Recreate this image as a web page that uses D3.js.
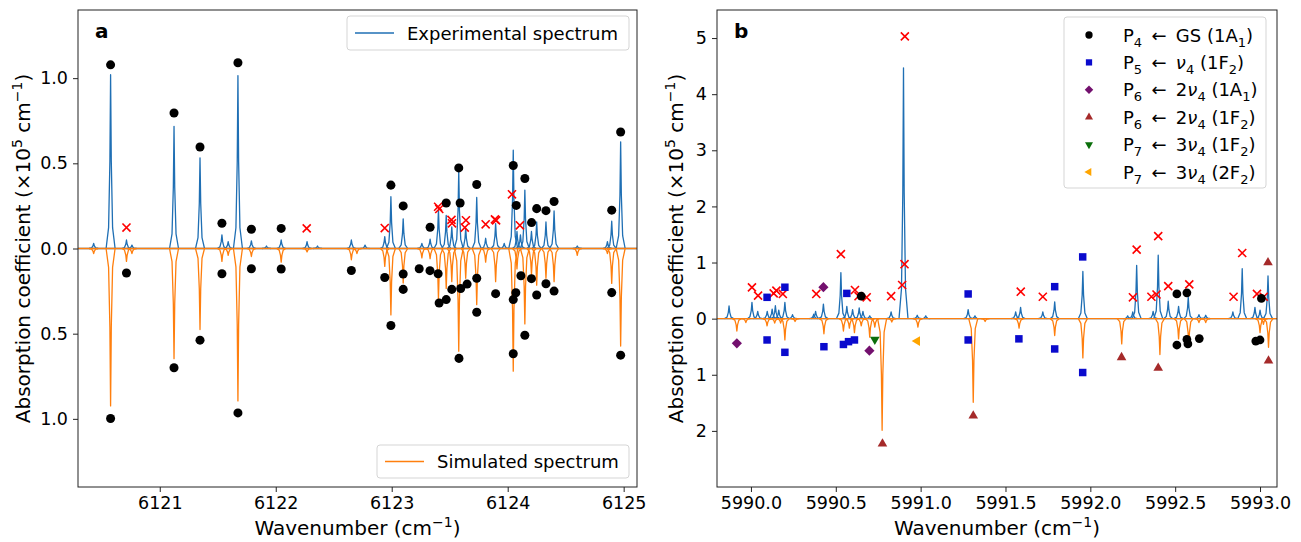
<!DOCTYPE html>
<html>
<head>
<meta charset="utf-8">
<script src="https://cdn.jsdelivr.net/npm/d3@7"></script>
<style>
  body { margin: 0; background: #fff; }
  text { font-family: "DejaVu Sans", sans-serif; fill: #000; }
</style>
</head>
<body>
<svg id="chart" width="1301" height="542"></svg>
<script>
// ---- panel a data ----
const aTicksX = [6121, 6122, 6123, 6124, 6125];
const aTicksY = [-1, -0.5, 0, 0.5, 1];
// [wavenumber, height]
const aExpPeaks = [
  [6120.43, 0.03], [6120.576, 1.02], [6120.713, 0.05], [6120.76, 0.02],
  [6121.123, 0.717], [6121.347, 0.532], [6121.536, 0.08], [6121.59, 0.04],
  [6121.674, 1.015], [6121.79, 0.045], [6121.92, 0.015], [6122.047, 0.05],
  [6122.27, 0.04], [6122.36, 0.015], [6122.652, 0.05], [6122.77, 0.02],
  [6122.94, 0.07], [6122.993, 0.304], [6123.099, 0.174], [6123.26, 0.03],
  [6123.331, 0.055], [6123.403, 0.226], [6123.47, 0.195], [6123.518, 0.127],
  [6123.578, 0.45], [6123.638, 0.12], [6123.733, 0.30], [6123.81, 0.06],
  [6123.896, 0.146], [6123.97, 0.03], [6124.048, 0.577], [6124.08, 0.10],
  [6124.11, 0.08], [6124.148, 0.343], [6124.205, 0.10], [6124.25, 0.156],
  [6124.33, 0.156], [6124.40, 0.22], [6124.6, 0.015], [6124.86, 0.04],
  [6124.897, 0.16], [6124.974, 0.626]
];
// [wavenumber, depth] drawn below zero
const aSimPeaks = [
  [6120.43, 0.03], [6120.576, 0.924], [6120.713, 0.076], [6120.76, 0.03],
  [6121.123, 0.647], [6121.347, 0.476], [6121.536, 0.076], [6121.59, 0.04],
  [6121.674, 0.895], [6121.79, 0.047], [6122.047, 0.08], [6122.27, 0.02],
  [6122.652, 0.066], [6122.70, 0.03], [6122.94, 0.105], [6122.993, 0.39],
  [6123.099, 0.203], [6123.26, 0.055], [6123.331, 0.06], [6123.403, 0.30],
  [6123.47, 0.234], [6123.518, 0.195], [6123.578, 0.603], [6123.638, 0.175],
  [6123.733, 0.33], [6123.81, 0.08], [6123.896, 0.195], [6124.048, 0.72],
  [6124.08, 0.12], [6124.148, 0.443], [6124.205, 0.156], [6124.25, 0.215],
  [6124.33, 0.175], [6124.40, 0.195], [6124.6, 0.04], [6124.86, 0.03],
  [6124.897, 0.205], [6124.974, 0.573]
];
const aDots = [
  [6120.576, 1.078], [6121.123, 0.795], [6121.347, 0.596], [6121.536, 0.148],
  [6121.674, 1.09], [6121.79, 0.113], [6122.047, 0.118], [6122.993, 0.372],
  [6123.099, 0.25], [6123.331, 0.125], [6123.47, 0.267], [6123.578, 0.473],
  [6123.59, 0.267], [6123.733, 0.376], [6124.048, 0.487], [6124.074, 0.253],
  [6124.148, 0.411], [6124.206, 0.152], [6124.25, 0.234], [6124.33, 0.222],
  [6124.40, 0.276], [6124.897, 0.225], [6124.974, 0.684],
  [6120.576, -0.998], [6120.713, -0.144], [6121.123, -0.70], [6121.347, -0.538],
  [6121.536, -0.148], [6121.674, -0.965], [6121.79, -0.119], [6122.047, -0.12],
  [6122.652, -0.129], [6122.94, -0.17], [6122.993, -0.452], [6123.099, -0.15],
  [6123.099, -0.24], [6123.237, -0.119], [6123.33, -0.13], [6123.40, -0.148],
  [6123.409, -0.32], [6123.47, -0.30], [6123.518, -0.24], [6123.595, -0.235],
  [6123.65, -0.209], [6123.58, -0.645], [6123.733, -0.175], [6123.733, -0.374],
  [6123.896, -0.265], [6124.048, -0.618], [6124.048, -0.30], [6124.07, -0.26],
  [6124.114, -0.16], [6124.148, -0.509], [6124.205, -0.177], [6124.25, -0.273],
  [6124.33, -0.207], [6124.40, -0.25], [6124.897, -0.259], [6124.974, -0.626]
];
const aCrosses = [
  [6120.713, 0.123], [6122.267, 0.118], [6122.94, 0.12], [6123.40, 0.245],
  [6123.41, 0.232], [6123.515, 0.168], [6123.52, 0.148], [6123.64, 0.166],
  [6123.63, 0.123], [6123.81, 0.142], [6123.89, 0.171], [6123.90, 0.165],
  [6124.037, 0.318], [6124.105, 0.136]
];

// ---- panel b data ----
const bTicksX = [5990.0, 5990.5, 5991.0, 5991.5, 5992.0, 5992.5, 5993.0];
const bTicksY = [-2, -1, 0, 1, 2, 3, 4, 5];
const bExpPeaks = [
  [5989.871, 0.225], [5990.006, 0.29], [5990.04, 0.13], [5990.096, 0.13],
  [5990.125, 0.17], [5990.144, 0.23], [5990.164, 0.15], [5990.20, 0.29],
  [5990.245, 0.07], [5990.37, 0.08], [5990.381, 0.13], [5990.427, 0.26],
  [5990.53, 0.82], [5990.565, 0.22], [5990.599, 0.16], [5990.638, 0.19],
  [5990.66, 0.13], [5990.70, 0.05], [5990.826, 0.12], [5990.899, 4.47],
  [5990.98, 0.06], [5991.03, 0.05], [5991.28, 0.16], [5991.32, 0.05],
  [5991.56, 0.12], [5991.589, 0.2], [5991.72, 0.12], [5991.79, 0.30],
  [5991.956, 0.84], [5992.22, 0.05], [5992.25, 0.12], [5992.273, 0.95],
  [5992.37, 0.13], [5992.40, 1.13], [5992.459, 0.31], [5992.52, 0.22],
  [5992.577, 0.38], [5992.64, 0.07], [5992.68, 0.06], [5992.84, 0.12],
  [5992.895, 0.89], [5992.97, 0.2], [5993.0, 0.15], [5993.047, 0.76]
];
const bSimPeaks = [
  [5989.917, 0.22], [5989.97, 0.07], [5990.095, 0.13], [5990.14, 0.08],
  [5990.175, 0.08], [5990.20, 0.38], [5990.26, 0.05], [5990.43, 0.27],
  [5990.545, 0.22], [5990.58, 0.17], [5990.61, 0.25], [5990.65, 0.13],
  [5990.70, 0.33], [5990.73, 0.15], [5990.773, 1.99], [5990.83, 0.06],
  [5990.984, 0.15], [5991.31, 1.49], [5991.38, 0.05], [5991.58, 0.17],
  [5991.79, 0.30], [5991.956, 0.70], [5992.185, 0.45], [5992.41, 0.64],
  [5992.52, 0.36], [5992.58, 0.49], [5992.64, 0.07], [5992.68, 0.07],
  [5993.0, 0.25], [5993.02, 0.1], [5993.05, 0.51]
];
const bGS = [
  [5990.65, 0.40], [5992.51, 0.44], [5992.569, 0.46], [5992.51, -0.47],
  [5992.569, -0.37], [5992.575, -0.45], [5992.642, -0.355], [5992.975, -0.40],
  [5993.0, -0.38], [5993.008, 0.36]
];
const bNu4 = [
  [5990.095, 0.38], [5990.20, 0.56], [5990.095, -0.38], [5990.20, -0.60],
  [5990.43, -0.50], [5990.565, 0.45], [5990.545, -0.46], [5990.575, -0.41],
  [5990.61, -0.38], [5991.28, 0.44], [5991.28, -0.38], [5991.579, -0.36],
  [5991.79, 0.57], [5991.79, -0.54], [5991.955, 1.10], [5991.955, -0.96]
];
const b2Nu4A1 = [[5989.917, -0.44], [5990.427, 0.56], [5990.698, -0.57]];
const b2Nu4F2 = [
  [5990.775, -2.23], [5991.31, -1.73], [5992.184, -0.69], [5992.40, -0.88],
  [5993.047, 1.0], [5993.05, -0.75]
];
const b3Nu4F2 = [[5990.73, -0.37]];
const b3Nu4F2b = [[5990.98, -0.40]];
const bCrosses = [
  [5990.006, 0.557], [5990.042, 0.41], [5990.134, 0.45], [5990.15, 0.50],
  [5990.188, 0.44], [5990.385, 0.44], [5990.53, 1.15], [5990.613, 0.51],
  [5990.634, 0.40], [5990.682, 0.38], [5990.826, 0.40], [5990.891, 0.60],
  [5990.905, 0.97], [5990.907, 5.03], [5991.59, 0.48], [5991.72, 0.39],
  [5992.251, 0.38], [5992.273, 1.23], [5992.36, 0.39], [5992.39, 0.43],
  [5992.40, 1.47], [5992.459, 0.58], [5992.583, 0.61], [5992.844, 0.39],
  [5992.895, 1.17], [5992.982, 0.44], [5993.022, 0.39]
];

const expColor = '#1f6fb4';
const simColor = '#ff7f0e';

let svg = d3.select('#chart');

// Build one panel: frame, axes, spectra. Returns scales.
function Panel(opt) {
  let g = svg.append('g');
  let x = d3.scaleLinear().domain(opt.xDomain).range([opt.left, opt.right]);
  let y = d3.scaleLinear().domain(opt.yDomain).range([opt.bottom, opt.top]);

  let clip = 'clip-' + opt.name;
  svg.append('clipPath').attr('id', clip)
    .append('rect')
    .attr('x', opt.left).attr('y', opt.top)
    .attr('width', opt.right - opt.left).attr('height', opt.bottom - opt.top);

  let plot = g.append('g').attr('clip-path', 'url(#' + clip + ')');

  // spectra: baseline + one narrow spike per peak
  function drawSpectrum(peaks, sign, color) {
    let line = d3.line();
    plot.append('path')
      .attr('d', line([[x(opt.xDomain[0]), y(0)], [x(opt.xDomain[1]), y(0)]]))
      .attr('stroke', color).attr('stroke-width', 1.3).attr('fill', 'none');
    plot.selectAll(null)
      .data(peaks)
      .enter()
      .append('path')
      .attr('d', function(d) {
        let cx = x(d[0]);
        let h = sign * d[1];
        return line([
          [cx - 4.5, y(0)], [cx - 2, y(h * 0.12)], [cx - 0.7, y(h * 0.5)], [cx, y(h)],
          [cx + 0.7, y(h * 0.5)], [cx + 2, y(h * 0.12)], [cx + 4.5, y(0)]
        ]);
      })
      .attr('stroke', color).attr('stroke-width', 1.3)
      .attr('stroke-linejoin', 'round').attr('fill', 'none');
  }
  drawSpectrum(opt.exp, 1, expColor);
  drawSpectrum(opt.sim, -1, simColor);

  // axes
  let xAxis = d3.axisBottom(x).tickValues(opt.xTicks).tickFormat(opt.xFormat)
    .tickSizeOuter(0).tickSize(5).tickPadding(5);
  let yAxis = d3.axisLeft(y).tickValues(opt.yTicks).tickFormat(opt.yFormat)
    .tickSizeOuter(0).tickSize(5).tickPadding(5);
  let gx = g.append('g').attr('transform', 'translate(0,' + opt.bottom + ')').call(xAxis);
  let gy = g.append('g').attr('transform', 'translate(' + opt.left + ',0)').call(yAxis);
  [gx, gy].forEach(function(a) {
    a.select('.domain').remove();
    a.selectAll('line').attr('stroke', '#222').attr('stroke-width', 1);
    a.selectAll('text').attr('font-size', 17.5).attr('font-family', 'DejaVu Sans');
  });

  // frame
  g.append('rect')
    .attr('x', opt.left).attr('y', opt.top)
    .attr('width', opt.right - opt.left).attr('height', opt.bottom - opt.top)
    .attr('fill', 'none').attr('stroke', '#222').attr('stroke-width', 1);

  // axis titles
  let xt = g.append('text')
    .attr('x', (opt.left + opt.right) / 2).attr('y', 535)
    .attr('text-anchor', 'middle').attr('font-size', 20);
  xt.append('tspan').text('Wavenumber (cm');
  xt.append('tspan').attr('font-size', 14).attr('dy', -8).text('\u22121');
  xt.append('tspan').attr('dy', 8).text(')');

  let yt = g.append('text')
    .attr('transform', 'translate(' + opt.yLabelX + ',' + ((opt.top + opt.bottom) / 2) + ') rotate(-90)')
    .attr('text-anchor', 'middle').attr('font-size', 20);
  yt.append('tspan').text('Absorption coefficient (\u00d710');
  yt.append('tspan').attr('font-size', 14).attr('dy', -8).text('5');
  yt.append('tspan').attr('dy', 8).text(' cm');
  yt.append('tspan').attr('font-size', 14).attr('dy', -8).text('\u22121');
  yt.append('tspan').attr('dy', 8).text(')');

  // panel letter
  g.append('text')
    .attr('x', opt.left + 17).attr('y', 38)
    .attr('font-size', 20).attr('font-weight', 'bold')
    .text(opt.name);

  return { x: x, y: y, g: g, plot: plot };
}

function drawMarkers(p, data, shape, size, color, rotate) {
  let sym = d3.symbol().type(shape).size(size);
  p.plot.selectAll(null)
    .data(data)
    .enter()
    .append('path')
    .attr('d', sym)
    .attr('transform', function(d) {
      return 'translate(' + p.x(d[0]) + ',' + p.y(d[1]) + ') rotate(' + (rotate || 0) + ')';
    })
    .attr('fill', shape === d3.symbolX ? 'none' : color)
    .attr('stroke', shape === d3.symbolX ? color : 'none')
    .attr('stroke-width', 1.6);
}

// ---- panel a ----
let pa = Panel({
  name: 'a', left: 78, right: 637, top: 10, bottom: 487,
  xDomain: [6120.295, 6125.115], yDomain: [-1.4, 1.4],
  xTicks: aTicksX, yTicks: aTicksY,
  xFormat: d3.format('d'),
  yFormat: function(d) { return d3.format('.1f')(Math.abs(d)); },
  exp: aExpPeaks, sim: aSimPeaks, yLabelX: 30
});
drawMarkers(pa, aCrosses, d3.symbolX, 44, 'red');
drawMarkers(pa, aDots, d3.symbolCircle, 64, 'black');

// legends of panel a
function lineLegend(g, bx, by, bw, bh, color, label) {
  g.append('rect')
    .attr('x', bx).attr('y', by).attr('width', bw).attr('height', bh)
    .attr('rx', 3).attr('fill', 'white').attr('fill-opacity', 0.85)
    .attr('stroke', '#d5d5d5');
  g.append('line')
    .attr('x1', bx + 8).attr('x2', bx + 47)
    .attr('y1', by + bh / 2).attr('y2', by + bh / 2)
    .attr('stroke', color).attr('stroke-width', 1.5);
  g.append('text')
    .attr('x', bx + 60).attr('y', by + bh / 2)
    .attr('dominant-baseline', 'central').attr('font-size', 18)
    .text(label);
}
lineLegend(pa.g, 347, 16, 282, 34, expColor, 'Experimental spectrum');
lineLegend(pa.g, 377, 445, 252, 33, simColor, 'Simulated spectrum');

// ---- panel b ----
let pb = Panel({
  name: 'b', left: 717, right: 1277, top: 10, bottom: 487,
  xDomain: [5989.8, 5993.1], yDomain: [-3, 5.5],
  xTicks: bTicksX, yTicks: bTicksY,
  xFormat: d3.format('.1f'),
  yFormat: function(d) { return String(Math.abs(d)); },
  exp: bExpPeaks, sim: bSimPeaks, yLabelX: 683
});
drawMarkers(pb, bCrosses, d3.symbolX, 44, 'red');
let arrow = ' \u2009\u2190\u2009 ';
let bSeries = [
  { data: bGS, shape: d3.symbolCircle, size: 60, color: 'black', rot: 0,
    label: [['P', ''], ['4', 'sub'], [arrow + 'GS (1A', ''], ['1', 'sub'], [')', '']] },
  { data: bNu4, shape: d3.symbolSquare, size: 56, color: '#0a0acd', rot: 0,
    label: [['P', ''], ['5', 'sub'], [arrow, ''], ['\u03bd', 'it'], ['4', 'sub'], [' (1F', ''], ['2', 'sub'], [')', '']] },
  { data: b2Nu4A1, shape: d3.symbolSquare, size: 52, color: '#73106e', rot: 45,
    label: [['P', ''], ['6', 'sub'], [arrow + '2', ''], ['\u03bd', 'it'], ['4', 'sub'], [' (1A', ''], ['1', 'sub'], [')', '']] },
  { data: b2Nu4F2, shape: d3.symbolTriangle, size: 40, color: '#a52a2a', rot: 0,
    label: [['P', ''], ['6', 'sub'], [arrow + '2', ''], ['\u03bd', 'it'], ['4', 'sub'], [' (1F', ''], ['2', 'sub'], [')', '']] },
  { data: b3Nu4F2, shape: d3.symbolTriangle, size: 40, color: '#0a6e0a', rot: 180,
    label: [['P', ''], ['7', 'sub'], [arrow + '3', ''], ['\u03bd', 'it'], ['4', 'sub'], [' (1F', ''], ['2', 'sub'], [')', '']] },
  { data: b3Nu4F2b, shape: d3.symbolTriangle, size: 40, color: '#ffa500', rot: -90,
    label: [['P', ''], ['7', 'sub'], [arrow + '3', ''], ['\u03bd', 'it'], ['4', 'sub'], [' (2F', ''], ['2', 'sub'], [')', '']] }
];
bSeries.forEach(function(s) {
  drawMarkers(pb, s.data, s.shape, s.size, s.color, s.rot);
});

// legend of panel b
pb.g.append('rect')
  .attr('x', 1064).attr('y', 17).attr('width', 202).attr('height', 171)
  .attr('rx', 3).attr('fill', 'white').attr('fill-opacity', 0.85)
  .attr('stroke', '#d5d5d5');
bSeries.forEach(function(s, i) {
  let ry = 35 + i * 27.4;
  pb.g.append('path')
    .attr('d', d3.symbol().type(s.shape).size(s.size * 0.7)())
    .attr('transform', 'translate(1089,' + ry + ') rotate(' + s.rot + ')')
    .attr('fill', s.color);
  let t = pb.g.append('text')
    .attr('x', 1123).attr('y', ry + 6.5).attr('font-size', 18)
    .attr('xml:space', 'preserve').style('white-space', 'pre');
  let shifted = false;
  s.label.forEach(function(part) {
    let ts = t.append('tspan').text(part[0]);
    if (part[1] === 'sub') {
      ts.attr('font-size', 13).attr('dy', 5);
      shifted = true;
    } else if (shifted) {
      ts.attr('dy', -5);
      shifted = false;
    }
    if (part[1] === 'it') ts.attr('font-style', 'italic');
  });
});
</script>
</body>
</html>
